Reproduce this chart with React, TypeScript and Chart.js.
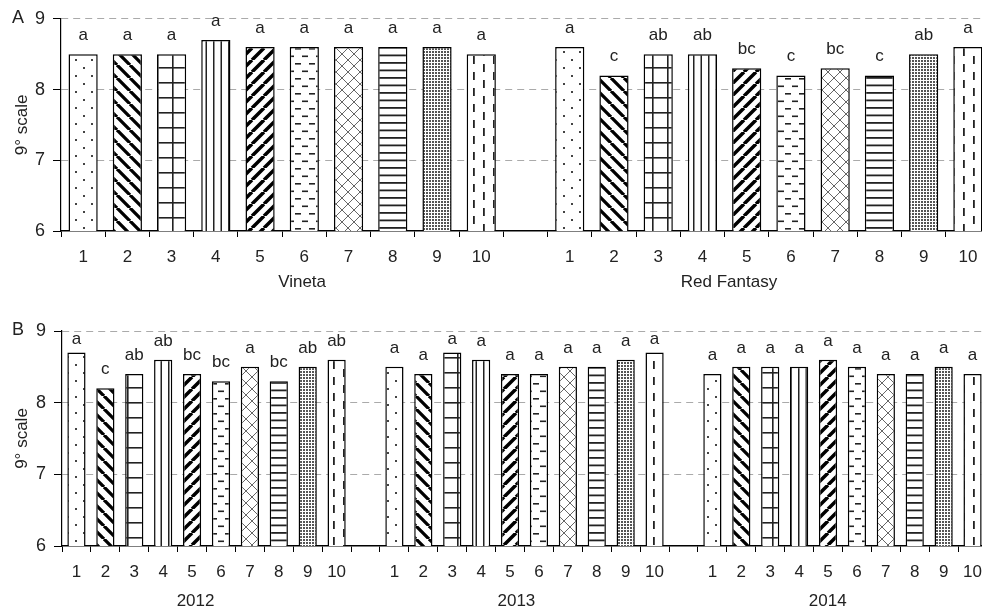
import React, { useEffect, useRef } from 'react';
import { Chart, registerables } from 'chart.js';
Chart.register(...registerables);

const FONT = '"Liberation Sans", Arial, sans-serif';
const TEXT = '#222';

// ---------- data ----------
const treatmentLabels = ['1', '2', '3', '4', '5', '6', '7', '8', '9', '10'];
const yTicks = [6, 7, 8, 9];
const yTitle = '9° scale';

const panelAGroups = ['Vineta', 'Red Fantasy'];
const vinetaValues = [8.5, 8.5, 8.5, 8.7, 8.6, 8.6, 8.6, 8.6, 8.6, 8.5];
const vinetaLetters = ['a', 'a', 'a', 'a', 'a', 'a', 'a', 'a', 'a', 'a'];
const redFantasyValues = [8.6, 8.2, 8.5, 8.5, 8.3, 8.2, 8.3, 8.2, 8.5, 8.6];
const redFantasyLetters = ['a', 'c', 'ab', 'ab', 'bc', 'c', 'bc', 'c', 'ab', 'a'];

const panelBGroups = ['2012', '2013', '2014'];
const values2012 = [8.7, 8.2, 8.4, 8.6, 8.4, 8.3, 8.5, 8.3, 8.5, 8.6];
const letters2012 = ['a', 'c', 'ab', 'ab', 'bc', 'bc', 'a', 'bc', 'ab', 'ab'];
const values2013 = [8.5, 8.4, 8.7, 8.6, 8.4, 8.4, 8.5, 8.5, 8.6, 8.7];
const letters2013 = ['a', 'a', 'a', 'a', 'a', 'a', 'a', 'a', 'a', 'a'];
const values2014 = [8.4, 8.5, 8.5, 8.5, 8.6, 8.5, 8.4, 8.4, 8.5, 8.4];
const letters2014 = ['a', 'a', 'a', 'a', 'a', 'a', 'a', 'a', 'a', 'a'];

// ---------- patterns ----------
function makeTile(kind: number): HTMLCanvasElement {
  const c = document.createElement('canvas');
  const g = c.getContext('2d')!;
  const set = (w: number, h: number) => {
    c.width = w;
    c.height = h;
    g.fillStyle = '#fff';
    g.fillRect(0, 0, w, h);
  };
  const diag = (size: number, lw: number, down: boolean, color: string) => {
    set(size, size);
    g.strokeStyle = color;
    g.lineWidth = lw;
    g.beginPath();
    for (let k = -1; k <= 1; k++) {
      const x0 = k * size;
      if (down) {
        g.moveTo(x0, 0);
        g.lineTo(x0 + size, size);
      } else {
        g.moveTo(x0, size);
        g.lineTo(x0 + size, 0);
      }
    }
    g.stroke();
  };
  switch (kind) {
    case 0: // sparse dots
      set(16, 16);
      g.fillStyle = '#444';
      g.fillRect(3, 3, 2, 2);
      g.fillRect(11, 11, 2, 2);
      break;
    case 1: // thick "\\"
      diag(13, 3.3, true, '#000');
      break;
    case 2: // grid
      set(15, 15);
      g.fillStyle = '#222';
      g.fillRect(7, 0, 1.6, 15);
      g.fillRect(0, 7, 15, 1.6);
      break;
    case 3: // vertical lines
      set(15, 2);
      g.fillStyle = '#222';
      g.fillRect(3, 0, 1.5, 2);
      g.fillRect(10.5, 0, 1.5, 2);
      break;
    case 4: // thick "//"
      diag(12, 3.5, false, '#000');
      break;
    case 5: // staggered horizontal dashes
      set(14, 15);
      g.fillStyle = '#222';
      g.fillRect(1, 3, 6, 1.6);
      g.fillRect(8, 10.5, 6, 1.6);
      break;
    case 6: // thin diagonal lattice
      set(12, 12);
      g.strokeStyle = '#666';
      g.lineWidth = 1;
      g.beginPath();
      g.moveTo(0, 0); g.lineTo(12, 12);
      g.moveTo(12, 0); g.lineTo(0, 12);
      g.stroke();
      break;
    case 7: // horizontal lines
      set(2, 15);
      g.fillStyle = '#222';
      g.fillRect(0, 2, 2, 1.8);
      g.fillRect(0, 9.5, 2, 1.8);
      break;
    case 8: // dense dots
      set(3, 3);
      g.fillStyle = '#555';
      g.fillRect(0, 0, 2, 2);
      break;
    default: // vertical dashes
      set(20, 16);
      g.fillStyle = '#222';
      g.fillRect(3, 0, 1.8, 8);
      g.fillRect(13, 8, 1.8, 8);
      break;
  }
  return c;
}

type GroupDef = { values: number[]; letters: string[] };

function buildPanel(groups: GroupDef[]) {
  const labels: string[] = [];
  const data: (number | null)[] = [];
  const letters: string[] = [];
  const kinds: (number | null)[] = [];
  groups.forEach((grp, gi) => {
    if (gi > 0) {
      labels.push('');
      data.push(null);
      letters.push('');
      kinds.push(null);
    }
    grp.values.forEach((v, i) => {
      labels.push(treatmentLabels[i]);
      data.push(v);
      letters.push(grp.letters[i]);
      kinds.push(i);
    });
  });
  return { labels, data, letters, kinds };
}

type PanelProps = {
  panel: string;
  groups: GroupDef[];
  groupNames: string[];
  groupAnchors: number[];
  top: number;
  height: number;
  padTop: number;
  padRight: number;
  yWidth: number;
  xHeight: number;
  barPct: number;
  clampTop: number | null;
  groupDy: number;
};

function Panel(p: PanelProps) {
  const ref = useRef<HTMLCanvasElement>(null);
  useEffect(() => {
    const canvas = ref.current!;
    const ctx2d = canvas.getContext('2d')!;
    const built = buildPanel(p.groups);
    const pats = built.kinds.map((k) =>
      k === null ? 'rgba(0,0,0,0)' : (ctx2d.createPattern(makeTile(k), 'repeat') as CanvasPattern)
    );

    const annot = {
      id: 'annot',
      afterDatasetsDraw(chart: any) {
        const ctx = chart.ctx;
        const area = chart.chartArea;
        const meta = chart.getDatasetMeta(0);
        ctx.save();
        ctx.font = `17px ${FONT}`;
        ctx.fillStyle = TEXT;
        ctx.textAlign = 'center';
        ctx.textBaseline = 'alphabetic';
        meta.data.forEach((el: any, i: number) => {
          const t = built.letters[i];
          if (!t) return;
          let y = el.y - 14;
          if (p.clampTop !== null) y = Math.max(y, area.top + p.clampTop);
          ctx.fillText(t, el.x, y);
        });
        ctx.restore();
      },
      afterDraw(chart: any) {
        const ctx = chart.ctx;
        const area = chart.chartArea;
        const xs = chart.scales.x;
        ctx.save();
        ctx.fillStyle = TEXT;
        ctx.textAlign = 'center';
        ctx.textBaseline = 'middle';
        ctx.font = `17px ${FONT}`;
        p.groupNames.forEach((n, i) => {
          ctx.fillText(n, xs.getPixelForValue(p.groupAnchors[i]), area.bottom + p.groupDy);
        });
        ctx.font = `18px ${FONT}`;
        ctx.fillText(p.panel, 18, area.top - 1);
        ctx.translate(22, (area.top + area.bottom) / 2);
        ctx.rotate(-Math.PI / 2);
        ctx.font = `17px ${FONT}`;
        ctx.fillText(yTitle, 0, 0);
        ctx.restore();
      },
    };

    const chart = new Chart(canvas, {
      type: 'bar',
      data: {
        labels: built.labels,
        datasets: [
          {
            data: built.data as any,
            backgroundColor: pats as any,
            borderColor: '#000',
            borderWidth: 1.5,
            barPercentage: p.barPct,
            categoryPercentage: 1,
          },
        ],
      },
      options: {
        responsive: false,
        animation: false,
        devicePixelRatio: 1,
        layout: { padding: { top: p.padTop, right: p.padRight, left: 0, bottom: 0 } },
        plugins: { legend: { display: false }, tooltip: { enabled: false } },
        scales: {
          x: {
            type: 'category',
            offset: true,
            grid: {
              offset: true,
              drawOnChartArea: false,
              drawTicks: true,
              tickLength: 6,
              tickColor: '#000',
              tickWidth: 1,
            },
            border: { display: true, color: '#000', width: 1.5 },
            ticks: {
              autoSkip: false,
              maxRotation: 0,
              padding: 10,
              color: TEXT,
              font: { family: FONT, size: 17 },
            },
            afterFit(scale: any) {
              scale.height = p.xHeight;
            },
          },
          y: {
            min: yTicks[0],
            max: yTicks[yTicks.length - 1],
            afterBuildTicks(scale: any) {
              scale.ticks = yTicks.map((v) => ({ value: v }));
            },
            grid: {
              color: (c: any) => (c.tick && c.tick.value === yTicks[0] ? 'rgba(0,0,0,0)' : '#aaa'),
              lineWidth: 1,
              drawTicks: true,
              tickLength: 8,
              tickColor: '#000',
              tickWidth: 1,
            },
            border: { display: true, color: '#000', width: 1.2, dash: [7, 5] },
            ticks: {
              padding: 8,
              color: TEXT,
              font: { family: FONT, size: 18 },
            },
            afterFit(scale: any) {
              scale.width = p.yWidth;
            },
          },
        },
      },
      plugins: [annot],
    } as any);
    return () => chart.destroy();
  }, []);
  return (
    <canvas
      ref={ref}
      width={1000}
      height={p.height}
      style={{ position: 'absolute', left: 0, top: p.top, width: 1000, height: p.height }}
    />
  );
}

export default function App() {
  return (
    <div
      style={{
        position: 'fixed',
        left: 0,
        top: 0,
        width: 982,
        height: 611,
        overflow: 'hidden',
        background: '#fff',
      }}
    >
      <Panel
        panel="A"
        groups={[
          { values: vinetaValues, letters: vinetaLetters },
          { values: redFantasyValues, letters: redFantasyLetters },
        ]}
        groupNames={panelAGroups}
        groupAnchors={[4.95, 14.6]}
        top={0}
        height={300}
        padTop={14}
        padRight={10}
        yWidth={61}
        xHeight={69}
        barPct={0.66}
        clampTop={null}
        groupDy={51}
      />
      <Panel
        panel="B"
        groups={[
          { values: values2012, letters: letters2012 },
          { values: values2013, letters: letters2013 },
          { values: values2014, letters: letters2014 },
        ]}
        groupNames={panelBGroups}
        groupAnchors={[4.12, 15.22, 25.99]}
        top={305}
        height={306}
        padTop={26}
        padRight={13}
        yWidth={62}
        xHeight={65}
        barPct={0.63}
        clampTop={13}
        groupDy={55}
      />
    </div>
  );
}
